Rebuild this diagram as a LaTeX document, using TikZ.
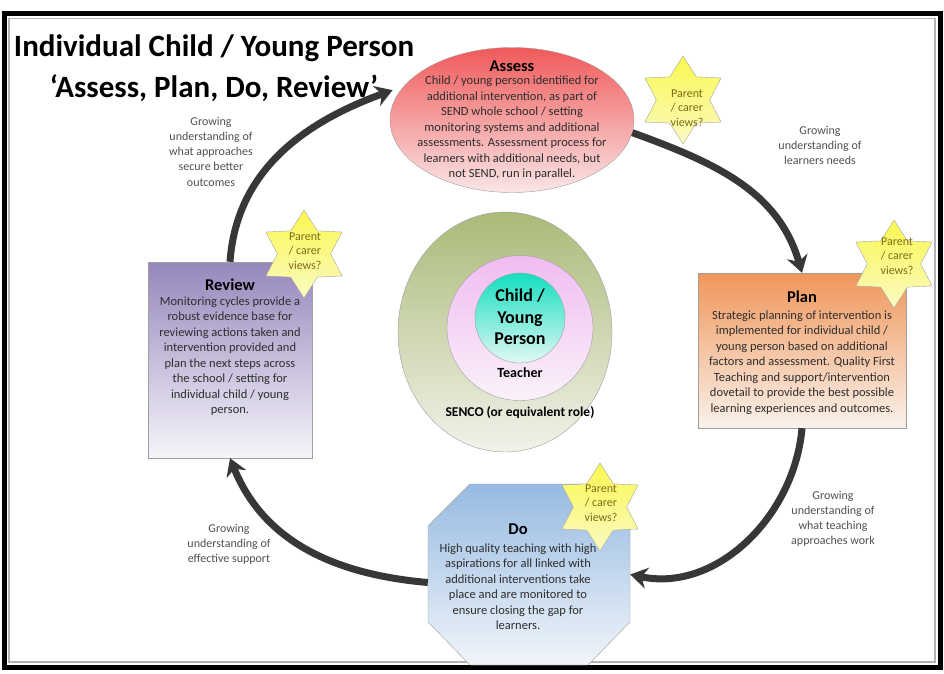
\documentclass[tikz,border=0pt]{standalone}
\usepackage{fontspec}
\setmainfont{Carlito}
\usetikzlibrary{arrows.meta, shapes.geometric, positioning}
\definecolor{cyclegrey}{RGB}{55,55,55}
\definecolor{bodytext}{RGB}{45,45,45}
\definecolor{labelgrey}{RGB}{80,80,80}
\definecolor{staroli}{RGB}{125,108,20}
\definecolor{starA}{RGB}{250,248,80}
\definecolor{starB}{RGB}{250,250,195}
\definecolor{assessA}{RGB}{240,90,90}
\definecolor{assessB}{RGB}{250,230,230}
\definecolor{reviewA}{RGB}{150,135,188}
\definecolor{reviewB}{RGB}{246,244,250}
\definecolor{planA}{RGB}{240,150,90}
\definecolor{planB}{RGB}{250,242,235}
\definecolor{doA}{RGB}{150,186,225}
\definecolor{doB}{RGB}{241,245,250}
\definecolor{sencoA}{RGB}{170,186,120}
\definecolor{sencoB}{RGB}{242,242,234}
\definecolor{teachA}{RGB}{240,188,240}
\definecolor{teachB}{RGB}{250,242,250}
\definecolor{childA}{RGB}{20,222,190}
\definecolor{childB}{RGB}{226,248,245}

\begin{document}
\begin{tikzpicture}[x=1pt, y=-1pt, >=Stealth]
  \tikzset{
    cycarrow/.style={draw=cyclegrey, line width=7pt, -{Stealth[length=17pt, width=21pt]}},
    heading/.style={font=\bfseries\fontsize{16.5}{18}\selectfont, text=black, inner sep=0pt},
    body/.style={align=center, inner sep=0pt, anchor=north, text=bodytext, font=\fontsize{12.5}{15.5}\selectfont},
    sidelabel/.style={align=center, inner sep=0pt, anchor=north, text=labelgrey, font=\fontsize{12}{15.3}\selectfont},
    carerstar/.style={star, star points=6, star point ratio=1.65, minimum size=88pt, inner sep=0pt, draw=gray!70, top color=starA, bottom color=starB},
    startext/.style={align=center, inner sep=0pt, text=staroli, font=\fontsize{12}{14.5}\selectfont},
    ring/.style={ellipse, inner sep=0pt, draw=gray!75},
    stepbox/.style={rectangle, inner sep=0pt, draw=gray!75}
  };
  \useasboundingbox (0,0) rectangle (944,673);
  \fill[white] (0,0) rectangle (944,673);
  % frame
  \draw[line width=5pt] (4,13) rectangle (940,667);
  \draw[gray!60, line width=1.2pt] (9,18.5) rectangle (935,662);
  % title
  \node[align=center, inner sep=0pt, anchor=north, font=\bfseries\fontsize{31}{41}\selectfont] (title) at (214,35)
    {Individual Child / Young Person\\‘Assess, Plan, Do, Review’};

  % centre rings
  \node[ring, minimum width=214pt, minimum height=240pt, top color=sencoA, bottom color=sencoB] (senco) at (505,332) {};
  \node[ring, minimum width=146pt, minimum height=145pt, top color=teachA, bottom color=teachB] (teacher) at (520,328) {};
  \node[ring, minimum width=90pt, minimum height=90pt, top color=childA, bottom color=childB] (child) at (520,318) {};
  \node[align=center, inner sep=0pt, font=\bfseries\fontsize{18}{21.5}\selectfont] (childtxt) at (520,317) {Child /\\Young\\Person};
  \node[inner sep=0pt, font=\bfseries\fontsize{14}{16}\selectfont] (teachertxt) at (520,373) {Teacher};
  \node[inner sep=0pt, font=\bfseries\fontsize{13.5}{16}\selectfont] (sencotxt) at (520,413) {SENCO (or equivalent role)};

  % assess
  \node[ring, minimum width=244pt, minimum height=145pt, top color=assessA, bottom color=assessB] (assess) at (512,120) {};
  \node[heading] (assesshead) at (512,66) {Assess};
  \node[body] (assesstxt) at (512,76) {Child / young person identified for\\additional intervention, as part of\\SEND whole school / setting\\monitoring systems and additional\\assessments. Assessment process for\\learners with additional needs, but\\not SEND, run in parallel.};

  % plan
  \node[stepbox, minimum width=208pt, minimum height=155pt, top color=planA, bottom color=planB] (plan) at (802,350.5) {};
  \node[heading] (planhead) at (802,297) {Plan};
  \node[body] (plantxt) at (802,310.6) {Strategic planning of intervention is\\implemented for individual child /\\young person based on additional\\factors and assessment. Quality First\\Teaching and support/intervention\\dovetail to provide the best possible\\learning experiences and outcomes.};

  % do
  \draw[draw=gray!75, top color=doA, bottom color=doB] (470,484) -- (588,484) -- (630,526) -- (630,622)
    -- (588,665) -- (470,665) -- (428,622) -- (428,526) -- cycle;
  \node[minimum width=202pt, minimum height=181pt, inner sep=0pt] (doo) at (529,574.5) {};
  \node[heading] (doohead) at (518,529) {Do};
  \node[body] (dootxt) at (518,543.6) {High quality teaching with high\\aspirations for all linked with\\additional interventions take\\place and are monitored to\\ensure closing the gap for\\learners.};

  % review
  \node[stepbox, minimum width=164pt, minimum height=196pt, top color=reviewA, bottom color=reviewB] (review) at (230,360) {};
  \node[heading] (reviewhead) at (230,285) {Review};
  \node[body] (reviewtxt) at (230,296.6) {Monitoring cycles provide a\\robust evidence base for\\reviewing actions taken and\\intervention provided and\\plan the next steps across\\the school / setting for\\individual child / young\\person.};

  % parent / carer stars
  \node[carerstar] (starA) at (683,100) {};
  \node[startext] (starAtxt) at (687,108) {Parent\\/ carer\\views?};
  \node[carerstar] (starP) at (894,264) {};
  \node[startext] (starPtxt) at (897,256) {Parent\\/ carer\\views?};
  \node[carerstar] (starD) at (600,507) {};
  \node[startext] (starDtxt) at (601,503) {Parent\\/ carer\\views?};
  \node[carerstar] (starR) at (304,254) {};
  \node[startext] (starRtxt) at (305,251) {Parent\\/ carer\\views?};

  % cycle arrows
  \draw[cycarrow] (assess.-6) to[out=-20, in=106] (plan.north);
  \draw[cycarrow] (plan.south) to[out=-95, in=-12] (doo.east);
  \draw[cycarrow] ([yshift=-8pt]doo.west) to[out=175, in=-68] (review.south);
  \draw[cycarrow] (review.north) to[out=86, in=200] ([xshift=-8pt]assess.165);

  % side labels
  \node[sidelabel] (lblassess) at (820,125.6) {Growing\\understanding of\\learners needs};
  \node[sidelabel] (lblplan) at (833,490.6) {Growing\\understanding of\\what teaching\\approaches work};
  \node[sidelabel] (lbldoo) at (229,523.6) {Growing\\understanding of\\effective support};
  \node[sidelabel] (lblreview) at (211,116.6) {Growing\\understanding of\\what approaches\\secure better\\outcomes};
\end{tikzpicture}
\end{document}
